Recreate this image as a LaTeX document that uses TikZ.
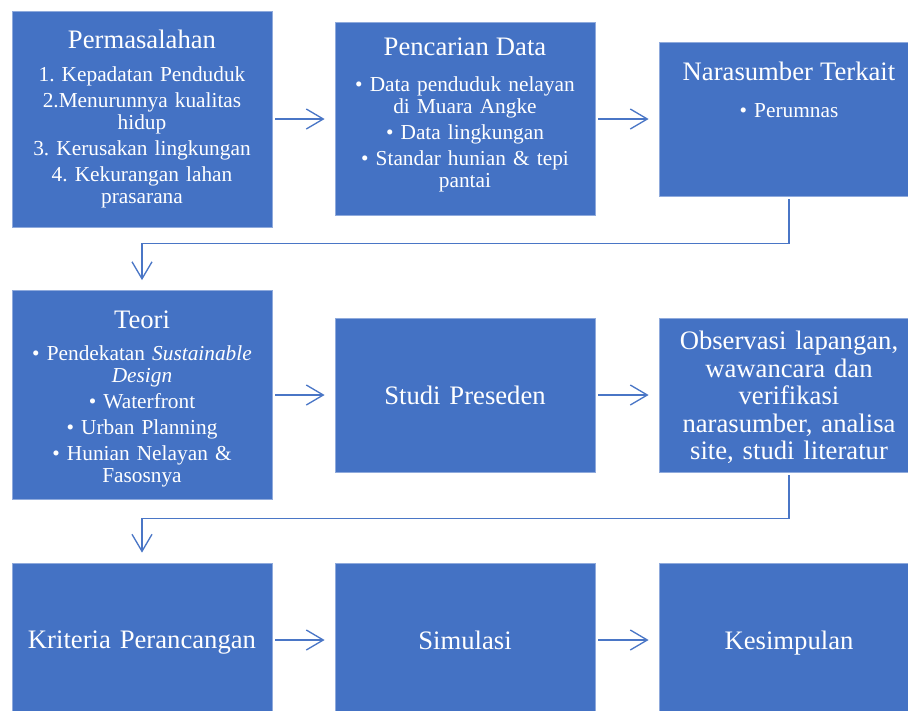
\documentclass[tikz,border=0pt]{standalone}
\usepackage{fontspec}
\setmainfont{Liberation Serif}
\usetikzlibrary{arrows.meta,positioning}
\frenchspacing

% Colours of the boxes and the connectors
\definecolor{boxblue}{HTML}{4472C4}
\definecolor{boxedge}{HTML}{8FAADC}
\definecolor{linkblue}{HTML}{4A76C6}

% Font sizes for headings and items
\newcommand{\headfont}{\fontsize{20}{20.6}\selectfont}
\newcommand{\itemfont}{\fontsize{16}{16.5}\selectfont}

\tikzset{
  blok/.style={rectangle, fill=boxblue, draw=boxedge, line width=0.6pt,
    text=white, minimum width=195pt, minimum height=115.5pt,
    align=center, text width=185pt, inner sep=0pt, font=\itemfont},
  headblok/.style={blok, font=\headfont, text depth=0pt},
  bloktext/.style={text=white, align=center, text width=185pt,
    inner sep=0pt, font=\itemfont},
  link/.style={draw=linkblue, line width=1pt,
    -{Straight Barb[length=12.75pt,width=15pt]},
    shorten <=2.25pt, shorten >=7.5pt},
}

\begin{document}
\begin{tikzpicture}[x=0.75pt, y=-0.75pt]

  % Fix the size of the page
  \useasboundingbox (0,0) rectangle (908,711);

  % First row
  \node[blok, minimum height=162pt] (masalah) at (142,119)
    {{\headfont Permasalahan}\\[8pt]
     1. Kepadatan Penduduk\\[3pt]
     2.Menurunnya kualitas\\ hidup\\[3pt]
     3. Kerusakan lingkungan\\[3pt]
     4. Kekurangan lahan\\ prasarana};
  \node[blok, minimum height=144.75pt] (pencarian) at (465,119) {};
  \node[bloktext] (pencariantxt) at (465,115)
    {{\headfont Pencarian Data}\\[11pt]
     • Data penduduk nelayan\\ di Muara Angke\\[3pt]
     • Data lingkungan\\[3pt]
     • Standar hunian \& tepi\\ pantai};
  \node[blok] (narasumber) at (789,119) {};
  \node[bloktext] (narasumbertxt) at (789,90)
    {{\headfont Narasumber Terkait}\\[11pt]
     • Perumnas};

  % Second row
  \node[blok, minimum height=156.75pt] (teori) at (142,395) {};
  \node[bloktext] (teoritxt) at (142,399)
    {{\headfont Teori}\\[8pt]
     • Pendekatan \textit{Sustainable}\\ \textit{Design}\\[3pt]
     • Waterfront\\[3pt]
     • Urban Planning\\[3pt]
     • Hunian Nelayan \&\\ Fasosnya};
  \node[headblok] (preseden) at (465,395) {Studi Preseden};
  \node[blok] (observasi) at (789,395) {};
  \node[bloktext, font=\headfont] (observasitxt) at (789,397.5)
    {Observasi lapangan,\\ wawancara dan\\ verifikasi\\
     narasumber, analisa\\ site, studi literatur};

  % Third row
  \node[headblok] (kriteria) at (142,640) {Kriteria Perancangan};
  \node[headblok] (simulasi) at (465,640) {Simulasi};
  \node[headblok] (kesimpulan) at (789,640) {Kesimpulan};

  % Arrows along the rows
  \draw[link] (masalah.east) -- (pencarian.west);
  \draw[link] (pencarian.east) -- (narasumber.west);
  \draw[link] (teori.east) -- (preseden.west);
  \draw[link] (preseden.east) -- (observasi.west);
  \draw[link] (kriteria.east) -- (simulasi.west);
  \draw[link] (simulasi.east) -- (kesimpulan.west);

  % Arrows down to the next row
  \draw[link] (narasumber.south) -- ++(0,47) -| (teori.north);
  \draw[link] (observasi.south) -- ++(0,46) -| (kriteria.north);

\end{tikzpicture}
\end{document}
